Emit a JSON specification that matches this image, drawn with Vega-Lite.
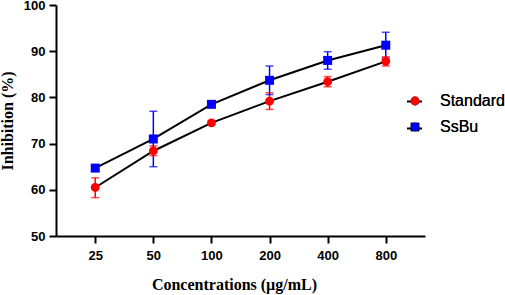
{
  "$schema": "https://vega.github.io/schema/vega-lite/v6.json",
  "autosize": "none",
  "padding": {"left": 56, "top": 5, "right": 80, "bottom": 59},
  "width": 369,
  "height": 231,
  "background": "white",
  "config": {"view": {"stroke": null}},
  "data": {"values": [
    {"conc": "25", "series": "Standard", "mean": 60.5, "lo": 58.3, "hi": 62.6},
    {"conc": "50", "series": "Standard", "mean": 68.4, "lo": 67.4, "hi": 69.5},
    {"conc": "100", "series": "Standard", "mean": 74.5, "lo": 74.1, "hi": 74.9},
    {"conc": "200", "series": "Standard", "mean": 79.2, "lo": 77.4, "hi": 81.0},
    {"conc": "400", "series": "Standard", "mean": 83.4, "lo": 82.3, "hi": 84.5},
    {"conc": "800", "series": "Standard", "mean": 87.8, "lo": 86.8, "hi": 88.8},
    {"conc": "25", "series": "SsBu", "mean": 64.7, "lo": 64.2, "hi": 65.2},
    {"conc": "50", "series": "SsBu", "mean": 71.0, "lo": 65.0, "hi": 77.0},
    {"conc": "100", "series": "SsBu", "mean": 78.5, "lo": 78.2, "hi": 78.8},
    {"conc": "200", "series": "SsBu", "mean": 83.7, "lo": 80.6, "hi": 86.8},
    {"conc": "400", "series": "SsBu", "mean": 88.0, "lo": 86.1, "hi": 89.9},
    {"conc": "800", "series": "SsBu", "mean": 91.3, "lo": 88.5, "hi": 94.1}
  ]},
  "encoding": {
    "x": {
      "field": "conc", "type": "ordinal", "sort": ["25", "50", "100", "200", "400", "800"],
      "scale": {"type": "point", "padding": 0.675},
      "axis": {
        "title": "Concentrations (µg/mL)", "labelAngle": 0, "titleX": 178,
        "domainColor": "black", "domainWidth": 2, "tickColor": "black", "tickWidth": 2, "tickSize": 7,
        "labelFont": "Liberation Sans", "labelFontWeight": "bold", "labelFontSize": 13, "labelColor": "black", "labelPadding": 6,
        "titleFont": "Liberation Serif", "titleFontWeight": "bold", "titleFontSize": 16, "titleColor": "black", "titlePadding": 14
      }
    }
  },
  "layer": [
    {
      "mark": {"type": "line", "strokeWidth": 2},
      "encoding": {
        "y": {
          "field": "mean", "type": "quantitative",
          "scale": {"domain": [50, 100], "nice": false, "zero": false},
          "axis": {
            "title": "Inhibition (%)", "values": [50, 60, 70, 80, 90, 100], "grid": false,
            "domainColor": "black", "domainWidth": 2, "tickColor": "black", "tickWidth": 2, "tickSize": 7,
            "labelFont": "Liberation Sans", "labelFontWeight": "bold", "labelFontSize": 13, "labelColor": "black", "labelPadding": 4,
            "titleFont": "Liberation Serif", "titleFontWeight": "bold", "titleFontSize": 16, "titleColor": "black", "titlePadding": 8
          }
        },
        "stroke": {
          "field": "series", "type": "nominal", "sort": "descending",
          "scale": {"range": ["black", "black"]},
          "legend": {
            "title": null, "orient": "none", "legendX": 350, "legendY": 88, "padding": 0,
            "symbolType": "M-1,0H1", "symbolSize": 225, "symbolStrokeWidth": 2,
            "labelColor": "transparent", "labelFontSize": 16, "labelFont": "Liberation Sans", "rowPadding": 10
          }
        }
      }
    },
    {
      "mark": {"type": "rule", "strokeWidth": 1.5},
      "encoding": {
        "y": {"field": "lo", "type": "quantitative"},
        "y2": {"field": "hi"},
        "color": {"field": "series", "type": "nominal", "sort": ["Standard", "SsBu"], "scale": {"range": ["#FF0000", "#0000FF"]}, "legend": null}
      }
    },
    {
      "mark": {"type": "tick", "thickness": 1.5, "size": 8},
      "encoding": {
        "y": {"field": "lo", "type": "quantitative"},
        "color": {"field": "series", "type": "nominal", "sort": ["Standard", "SsBu"], "legend": null}
      }
    },
    {
      "mark": {"type": "tick", "thickness": 1.5, "size": 8},
      "encoding": {
        "y": {"field": "hi", "type": "quantitative"},
        "color": {"field": "series", "type": "nominal", "sort": ["Standard", "SsBu"], "legend": null}
      }
    },
    {
      "mark": {"type": "point", "filled": true, "opacity": 1},
      "encoding": {
        "y": {"field": "mean", "type": "quantitative"},
        "fill": {"field": "series", "type": "nominal", "sort": ["Standard", "SsBu"], "scale": {"range": ["#FF0000", "#0000FF"]},
          "legend": {
            "title": null, "orient": "none", "legendX": 351, "legendY": 88, "padding": 0,
            "symbolSize": 78, "symbolStrokeWidth": 0, "symbolOpacity": 1,
            "labelFontSize": 16, "labelFont": "Liberation Sans", "labelColor": "black", "labelOffset": 17, "rowPadding": 10
          }
        },
        "shape": {"field": "series", "type": "nominal", "sort": ["Standard", "SsBu"], "scale": {"range": ["circle", "square"]},
          "legend": {
            "title": null, "orient": "none", "legendX": 351, "legendY": 88, "padding": 0,
            "symbolSize": 78, "symbolStrokeWidth": 0, "symbolOpacity": 1,
            "labelFontSize": 16, "labelFont": "Liberation Sans", "labelColor": "black", "labelOffset": 17, "rowPadding": 10
          }
        },
        "size": {"field": "series", "type": "nominal", "sort": ["Standard", "SsBu"], "scale": {"range": [78, 81]}, "legend": null}
      }
    }
  ]
}
